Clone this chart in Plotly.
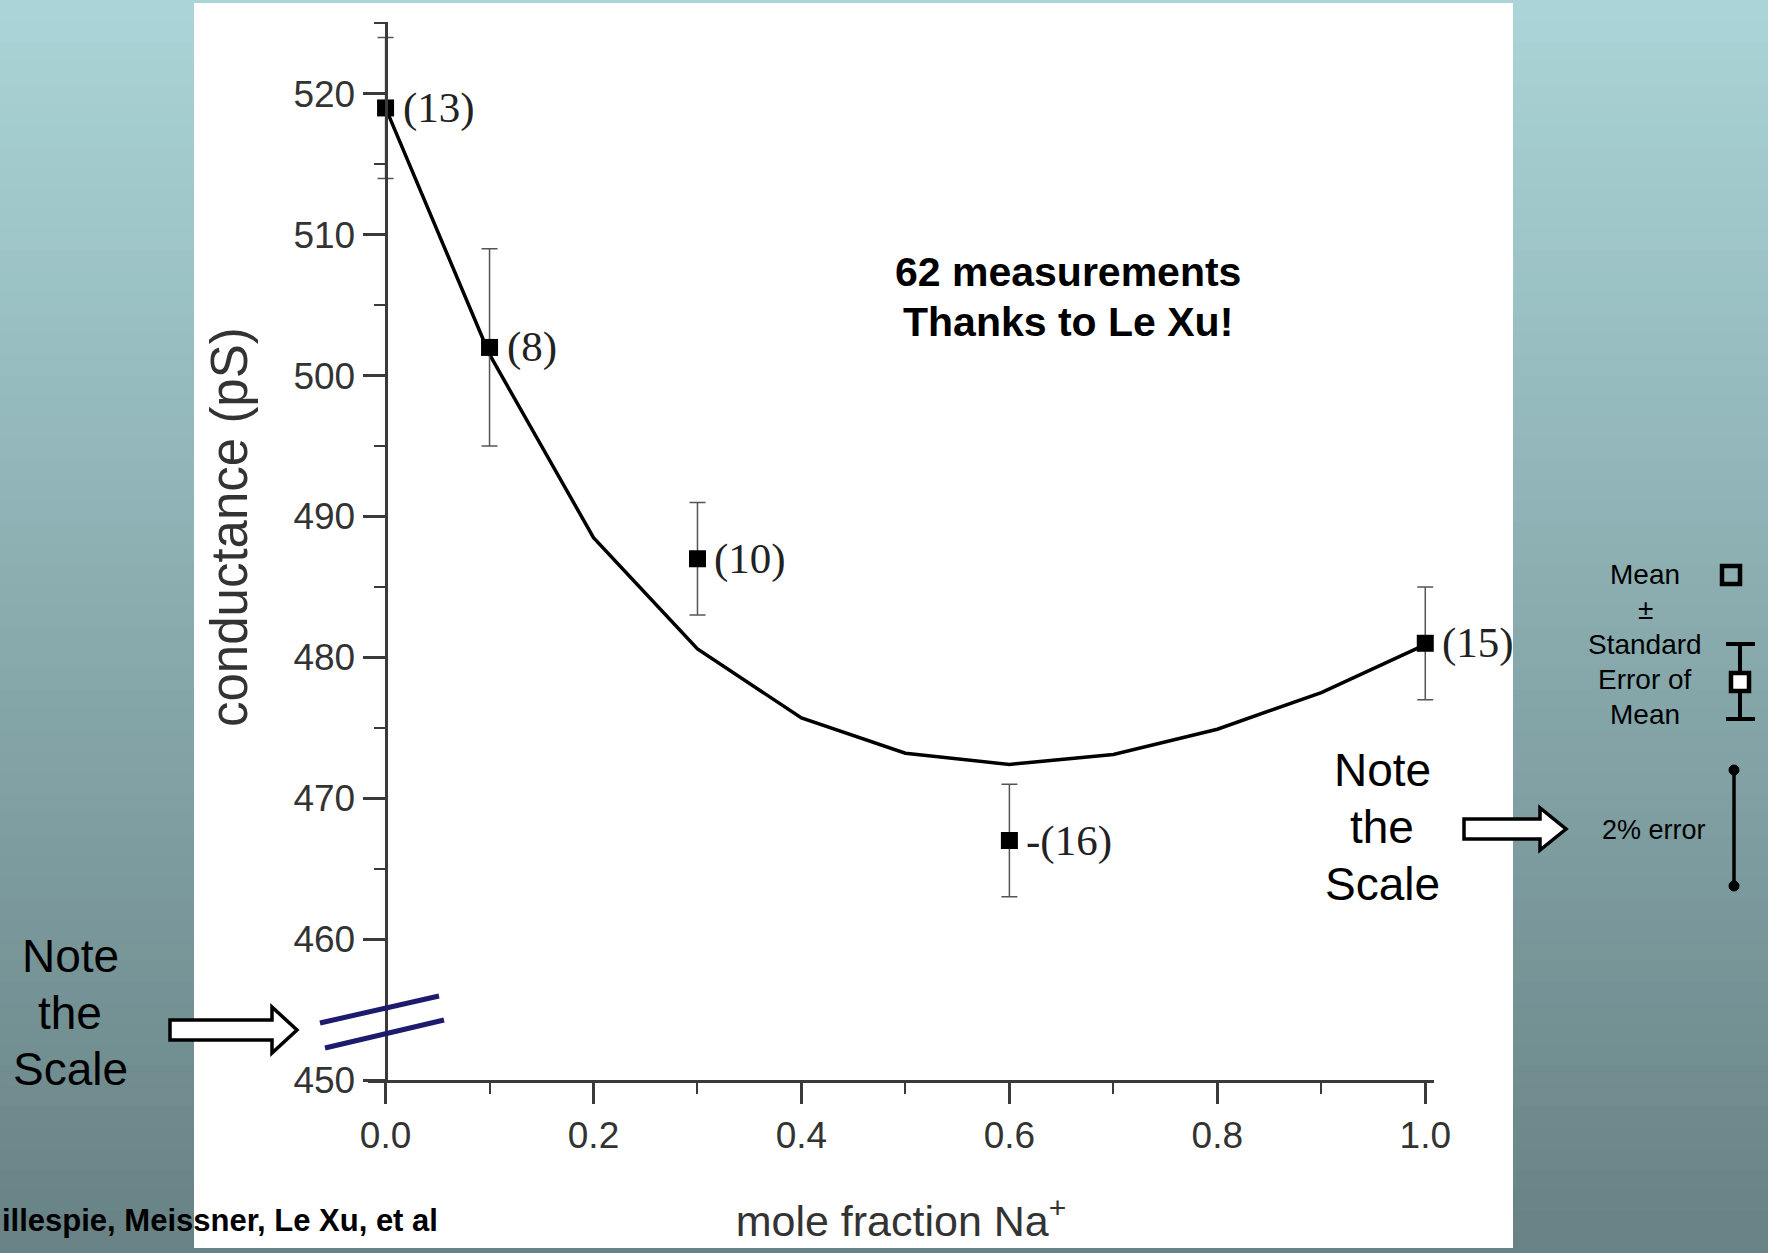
import plotly.graph_objects as go

# ---------------- data ----------------
mole_fraction = [0.0, 0.1, 0.3, 0.6, 1.0]
conductance_mean = [519.0, 502.0, 487.0, 467.0, 481.0]
conductance_sem = [5.0, 7.0, 4.0, 4.0, 4.0]
n_labels = ["(13)", "(8)", "(10)", "-(16)", "(15)"]

fit_x = [0.0, 0.1, 0.2, 0.3, 0.4, 0.5, 0.6, 0.7, 0.8, 0.9, 1.0]
fit_y = [519.0, 501.5, 488.5, 480.6, 475.7, 473.2, 472.4, 473.1, 474.9, 477.5, 480.9]

x_ticks = [0.0, 0.2, 0.4, 0.6, 0.8, 1.0]
y_ticks = [450, 460, 470, 480, 490, 500, 510, 520]

# ---------------- layout helpers ----------------
W_FIG, H_FIG = 1768, 1253
L, R, T, B = 368, 1434, 22, 1080
PW, PH = R - L, B - T


def px(x):
    return (x - L) / PW


def py(y):
    return (B - y) / PH


SANS = "Liberation Sans, Arial, sans-serif"
SERIF = "Liberation Serif, Times New Roman, serif"

fig = go.Figure()

# fitted curve
fig.add_trace(go.Scatter(
    x=fit_x, y=fit_y, mode="lines",
    line=dict(color="black", width=3.5),
    hoverinfo="skip", showlegend=False,
))

# measured means with SEM
fig.add_trace(go.Scatter(
    x=mole_fraction, y=conductance_mean, mode="markers",
    marker=dict(symbol="square", size=17, color="black"),
    error_y=dict(type="data", array=conductance_sem, visible=True,
                 color="#555555", thickness=1.5, width=8),
    showlegend=False,
))

shapes = []

# background vertical gradient (slide background)
top_c = (170, 212, 215)
bot_c = (104, 130, 133)
nb = 60
for i in range(nb):
    t = i / (nb - 1)
    c = tuple(int(round(top_c[k] + (bot_c[k] - top_c[k]) * t)) for k in range(3))
    y0 = i * H_FIG / nb
    y1 = (i + 1) * H_FIG / nb + 1
    shapes.append(dict(type="rect", xref="paper", yref="paper",
                       x0=px(0), x1=px(W_FIG), y0=py(y1), y1=py(y0),
                       fillcolor="rgb(%d,%d,%d)" % c, line=dict(width=0),
                       layer="below"))

# white figure panel
shapes.append(dict(type="rect", xref="paper", yref="paper",
                   x0=px(194), x1=px(1513), y0=py(1248), y1=py(3),
                   fillcolor="white", line=dict(width=0), layer="below"))

# axis-break slashes
for (xa, ya, xb, yb) in [(320, 1023, 439, 996), (325, 1048, 444, 1020)]:
    shapes.append(dict(type="line", xref="paper", yref="paper",
                       x0=px(xa), y0=py(ya), x1=px(xb), y1=py(yb),
                       line=dict(color="#1d1b6e", width=5), layer="above"))


def hollow_arrow(x0, x1, x2, cy, sh, hh):
    pts = [(x0, cy - sh), (x1, cy - sh), (x1, cy - hh), (x2, cy),
           (x1, cy + hh), (x1, cy + sh), (x0, cy + sh)]
    path = "M " + " L ".join("%.5f,%.5f" % (px(a), py(b)) for a, b in pts) + " Z"
    return dict(type="path", xref="paper", yref="paper", path=path,
                fillcolor="white", line=dict(color="black", width=3.5),
                layer="above")


shapes.append(hollow_arrow(170, 272, 297, 1030, 10, 23))
shapes.append(hollow_arrow(1464, 1540, 1566, 829, 10, 21))


def sq(cx, cy, h, fill):
    return dict(type="rect", xref="paper", yref="paper",
                x0=px(cx - h), x1=px(cx + h), y0=py(cy + h), y1=py(cy - h),
                fillcolor=fill, line=dict(color="black", width=4.5),
                layer="above")


# legend key: Mean square
shapes.append(sq(1731, 575, 9, "rgba(0,0,0,0)"))
# SEM glyph
shapes.append(dict(type="line", xref="paper", yref="paper",
                   x0=px(1740), x1=px(1740), y0=py(644), y1=py(719),
                   line=dict(color="black", width=4)))
for yy in (644, 719):
    shapes.append(dict(type="line", xref="paper", yref="paper",
                       x0=px(1726), x1=px(1755), y0=py(yy), y1=py(yy),
                       line=dict(color="black", width=4)))
shapes.append(sq(1740, 682, 9, "white"))
# 2% error glyph
shapes.append(dict(type="line", xref="paper", yref="paper",
                   x0=px(1734), x1=px(1734), y0=py(770), y1=py(886),
                   line=dict(color="black", width=3.5)))
for yy in (770, 886):
    shapes.append(dict(type="circle", xref="paper", yref="paper",
                       x0=px(1729), x1=px(1739), y0=py(yy + 5), y1=py(yy - 5),
                       fillcolor="black", line=dict(color="black", width=1)))

annotations = []

# point labels (number of measurements)
for xv, yv, lab in zip(mole_fraction, conductance_mean, n_labels):
    annotations.append(dict(x=xv, y=yv, xref="x", yref="y", text=lab,
                            showarrow=False, xanchor="left", yanchor="middle",
                            xshift=15, font=dict(family=SERIF, size=43, color="#222222")))


def txt(x, y, s, size, family=SANS, bold=False, anchor="center", color="black", angle=0):
    t = "<b>%s</b>" % s if bold else s
    annotations.append(dict(x=px(x), y=py(y), xref="paper", yref="paper",
                            text=t, showarrow=False, xanchor=anchor,
                            yanchor="middle", textangle=angle,
                            font=dict(family=family, size=size, color=color)))


# y-axis title
txt(229, 527, "conductance (pS)", 51, color="#333333", angle=-90)

txt(1068, 272, "62 measurements", 41, bold=True)
txt(1068, 322, "Thanks to Le Xu!", 41, bold=True)

for s, yy in zip(["Note", "the", "Scale"], [956, 1013, 1069]):
    txt(70, yy, s, 46)
for s, yy in zip(["Note", "the", "Scale"], [770, 827, 884]):
    txt(1382, yy, s, 46)

for s, yy in zip(["Mean", "±", "Standard", "Error of", "Mean"], [574, 609, 644, 679, 714]):
    txt(1645, yy, s, 28)
txt(1654, 830, "2% error", 27)

txt(0, 1220, "illespie, Meissner, Le Xu, et al", 31, bold=True, anchor="left")

fig.update_layout(
    width=W_FIG, height=H_FIG,
    margin=dict(l=L, r=W_FIG - R, t=T, b=H_FIG - B, pad=0),
    paper_bgcolor="rgb(104,130,133)",
    plot_bgcolor="rgba(0,0,0,0)",
    shapes=shapes,
    annotations=annotations,
    showlegend=False,
    xaxis=dict(
        range=[-0.0169, 1.0084], domain=[0, 1],
        tickvals=x_ticks, ticktext=["%.1f" % v for v in x_ticks],
        ticks="outside", ticklen=21, tickwidth=2.5, tickcolor="#3a3a3a",
        showline=True, linecolor="#3a3a3a", linewidth=3,
        showgrid=False, zeroline=False,
        minor=dict(ticks="outside", ticklen=11, tickwidth=2, tickcolor="#3a3a3a",
                   tickvals=[0.1, 0.3, 0.5, 0.7, 0.9], showgrid=False),
        tickfont=dict(family=SANS, size=37, color="#333333"),
        title=dict(text="mole fraction Na<sup>+</sup>", standoff=51,
                   font=dict(family=SANS, size=43, color="#333333")),
    ),
    yaxis=dict(
        range=[450, 525.1], domain=[0, 1],
        anchor="free", position=px(385.6),
        tickvals=y_ticks,
        ticks="outside", ticklen=22, tickwidth=2.5, tickcolor="#3a3a3a",
        showline=True, linecolor="#3a3a3a", linewidth=3,
        showgrid=False, zeroline=False,
        minor=dict(ticks="outside", ticklen=11, tickwidth=2, tickcolor="#3a3a3a",
                   dtick=5, tick0=445, showgrid=False),
        tickfont=dict(family=SANS, size=37, color="#333333"),
    ),
)

fig.write_html("out.html")
